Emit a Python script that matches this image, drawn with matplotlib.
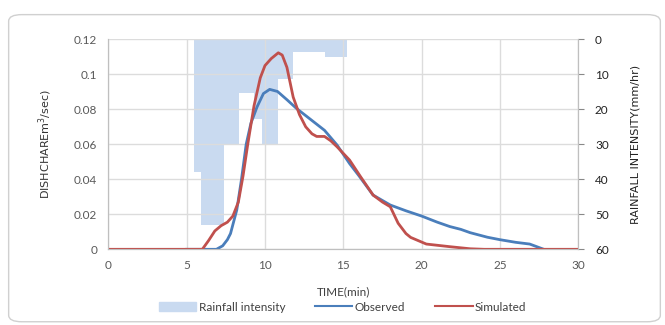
import matplotlib
matplotlib.use("Agg")
import matplotlib.pyplot as plt
from matplotlib.patches import FancyBboxPatch, Patch
from matplotlib.lines import Line2D

# rainfall intensity steps (mm/hr), edges in minutes
rain_edges = [5.45, 5.92, 7.38, 8.36, 9.3, 9.83, 10.81, 11.77, 13.83, 15.25]
rain_vals = [38, 53, 30, 15.2, 22.8, 30.2, 11.4, 3.7, 5.0]

# observed discharge
obs_t = [5.0, 6.9, 7.3, 7.6, 7.8, 8.2, 8.5, 8.8, 9.1, 9.5, 9.9, 10.3, 10.8, 11.4,
         12.0, 12.8, 13.8, 14.6, 15.4, 16.0, 16.9, 18.0, 19.0, 20.0, 21.0, 21.8,
         22.5, 23.1, 24.2, 25.0, 26.0, 26.9, 27.8]
obs_q = [0, 0, 0.002, 0.0055, 0.009, 0.0225, 0.04, 0.06, 0.072, 0.0815, 0.089,
         0.0914, 0.0902, 0.0855, 0.0806, 0.075, 0.068, 0.0596, 0.049, 0.042,
         0.031, 0.0253, 0.022, 0.019, 0.0155, 0.013, 0.0114, 0.0095, 0.0069,
         0.0055, 0.004, 0.003, 0]

# simulated discharge
sim_t = [0, 6.0, 6.4, 6.8, 7.2, 7.6, 7.95, 8.3, 8.6, 8.9, 9.3, 9.7, 10.0, 10.4,
         10.85, 11.1, 11.4, 11.8, 12.2, 12.6, 13.0, 13.3, 13.8, 14.2, 14.6, 15.4,
         16.1, 16.9, 17.5, 18.0, 18.5, 19.0, 19.3, 20.3, 21.8, 23.1, 24.0, 30.0]
sim_q = [0, 0, 0.005, 0.0105, 0.0135, 0.0155, 0.019, 0.027, 0.042, 0.06, 0.082,
         0.098, 0.105, 0.109, 0.1123, 0.111, 0.104, 0.087, 0.077, 0.07, 0.066,
         0.0645, 0.0645, 0.062, 0.0586, 0.051, 0.0415, 0.031, 0.027, 0.0243,
         0.0149, 0.009, 0.0068, 0.003, 0.0015, 0.0003, 0, 0]

x_ticks = [0, 5, 10, 15, 20, 25, 30]
q_ticks = [0, 0.02, 0.04, 0.06, 0.08, 0.1, 0.12]
q_labels = ["0", "0.02", "0.04", "0.06", "0.08", "0.1", "0.12"]
r_ticks = [0, 10, 20, 30, 40, 50, 60]

plt.rcParams['font.family'] = ['Lato', 'DejaVu Sans']

fig = plt.figure(figsize=(6.65, 3.25), dpi=100)
fig.patches.append(FancyBboxPatch((0.013, 0.01), 0.98, 0.945,
                                  boxstyle="round,pad=0,rounding_size=0.02",
                                  transform=fig.transFigure, fc="white",
                                  ec="#d0d0d0", lw=1.0, zorder=-1))

ax = fig.add_axes([0.1629, 0.2329, 0.7067, 0.6461])
ax2 = ax.twinx()

ax2.stairs(rain_vals, rain_edges, fill=True, color="#c9daf0", baseline=0)
ax2.set_ylim(60, 0)
ax2.set_yticks(r_ticks)
ax2.tick_params(axis='y', length=4, color="#888888", labelsize=8.5,
                labelcolor="#222222", pad=8)
ax2.set_ylabel("RAINFALL INTENSITY(mm/hr)", fontsize=8, color="#222222",
               family=['Liberation Sans Narrow', 'DejaVu Sans'], labelpad=16)

ax.set_zorder(ax2.get_zorder() + 1)
ax.patch.set_visible(False)
ax.plot(obs_t, obs_q, color="#4a7ebb", lw=2.0, solid_joinstyle='round')
ax.plot(sim_t, sim_q, color="#c0504d", lw=2.0, solid_joinstyle='round')
ax.set_xlim(0, 30)
ax.set_ylim(0, 0.12)
ax.set_xticks(x_ticks)
ax.set_yticks(q_ticks)
ax.set_yticklabels(q_labels)
ax.grid(True, color="#dcdcdc", lw=1.0)
ax.set_axisbelow(True)
ax.tick_params(axis='both', length=0, labelsize=8.5, labelcolor="#595959", pad=8)
ax.set_ylabel("DISHCHAREm$^3$/sec)", fontsize=8, color="#333333",
              family=['Liberation Sans Narrow', 'DejaVu Sans'], labelpad=14)
ax.set_xlabel("TIME(min)", fontsize=8.5, color="#404040", labelpad=11)

for a in (ax, ax2):
    for s in a.spines.values():
        s.set_color("#bfbfbf")
    a.spines['top'].set_visible(False)

handles = [Patch(color="#c9daf0"),
           Line2D([], [], color="#4a7ebb", lw=1.5),
           Line2D([], [], color="#c0504d", lw=1.5)]
fig.legend(handles, ["Rainfall intensity", "Observed", "Simulated"],
           loc="center", bbox_to_anchor=(0.515, 0.055), ncol=3, frameon=False,
           fontsize=8.5, labelcolor="#404040", handlelength=3.2,
           handletextpad=0.2, columnspacing=2.5)

fig.savefig("out.png", dpi=100)
